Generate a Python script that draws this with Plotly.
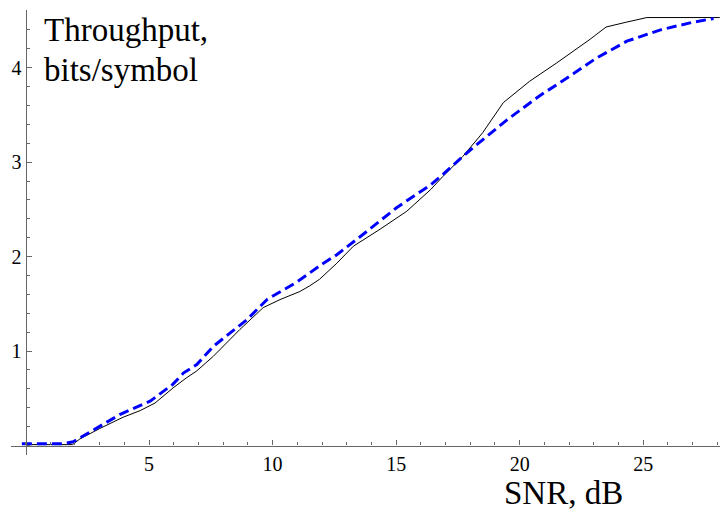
import plotly.graph_objects as go

# Exact throughput (solid black)
snr_exact = [0, 1.9, 2.2, 3.0, 3.95, 4.64, 5.24, 5.97, 6.53, 6.93, 7.6, 8.68, 9.62, 10.3,
             11.1, 11.5, 11.9, 12.6, 13.27, 14.35, 15.43, 16.4, 16.9, 17.3, 17.7, 18.5,
             19.34, 20.4, 21.5, 22.85, 23.5, 24.3, 25.15, 28.1]
thr_exact = [0.01, 0.01, 0.07, 0.18, 0.30, 0.37, 0.45, 0.61, 0.72, 0.79, 0.945, 1.23, 1.46, 1.545,
             1.63, 1.69, 1.76, 1.93, 2.11, 2.29, 2.48, 2.71, 2.85, 2.96, 3.06, 3.31,
             3.63, 3.855, 4.05, 4.30, 4.43, 4.48, 4.53, 4.53]

# Approximation (dashed blue)
snr_approx = [-0.15, 1.5, 1.93, 2.6, 3.83, 5.04, 5.97, 6.4, 6.93, 7.6, 8.95, 9.77, 10.98,
              12.0, 12.6, 13.54, 15.03, 16.4, 16.9, 17.7, 18.1, 19.5, 20.8, 22.2, 23.1,
              24.34, 25.7, 27.0, 27.85]
thr_approx = [0.02, 0.02, 0.04, 0.14, 0.33, 0.47, 0.65, 0.77, 0.857, 1.05, 1.33, 1.545, 1.73,
              1.92, 2.02, 2.21, 2.52, 2.76, 2.87, 3.06, 3.15, 3.45, 3.70, 3.94, 4.10,
              4.28, 4.40, 4.48, 4.52]

x_ticks = [5, 10, 15, 20, 25]
y_ticks = [1, 2, 3, 4]

x_range = [-0.59, 28.11]
y_range = [-0.1, 4.61]

FONT = "Liberation Serif"
AX = "#666666"

fig = go.Figure()
fig.add_trace(go.Scatter(x=snr_exact, y=thr_exact, mode="lines",
                         line=dict(color="black", width=1), showlegend=False))
fig.add_trace(go.Scatter(x=snr_approx, y=thr_approx, mode="lines",
                         line=dict(color="#0000FF", width=3, dash="10px,5px"), showlegend=False))

fig.update_layout(
    width=722, height=514,
    margin=dict(l=11, r=2, t=10, b=59, pad=0),
    plot_bgcolor="white", paper_bgcolor="white",
    xaxis=dict(range=x_range, anchor="free",
               position=(0 - y_range[0]) / (y_range[1] - y_range[0]),
               showline=True, linecolor=AX, linewidth=1.3,
               ticks="inside", ticklen=5, tickcolor=AX, tickwidth=1,
               tickvals=x_ticks, showgrid=False, zeroline=False,
               tickfont=dict(family=FONT, size=20, color="black"),
               minor=dict(ticks="inside", ticklen=3, dtick=1, tick0=0, tickcolor=AX, showgrid=False)),
    yaxis=dict(range=y_range, anchor="free",
               position=(0 - x_range[0]) / (x_range[1] - x_range[0]),
               showline=True, linecolor=AX, linewidth=1.3,
               ticks="inside", ticklen=5, tickcolor=AX, tickwidth=1,
               tickvals=y_ticks, showgrid=False, zeroline=False,
               tickfont=dict(family=FONT, size=20, color="black"),
               minor=dict(ticks="inside", ticklen=3, dtick=0.2, tick0=0, tickcolor=AX, showgrid=False)),
    annotations=[
        dict(text="Throughput,", xref="paper", yref="paper", x=0.0435, y=0.956,
             xanchor="left", yanchor="middle", showarrow=False,
             font=dict(family=FONT, size=33, color="black")),
        dict(text="bits/symbol", xref="paper", yref="paper", x=0.0435, y=0.866,
             xanchor="left", yanchor="middle", showarrow=False,
             font=dict(family=FONT, size=33, color="black")),
        dict(text="SNR, dB", xref="paper", yref="paper", x=0.7786, y=-0.1295,
             xanchor="center", yanchor="bottom", showarrow=False,
             font=dict(family=FONT, size=33, color="black")),
    ],
)

fig.write_html("out.html")
